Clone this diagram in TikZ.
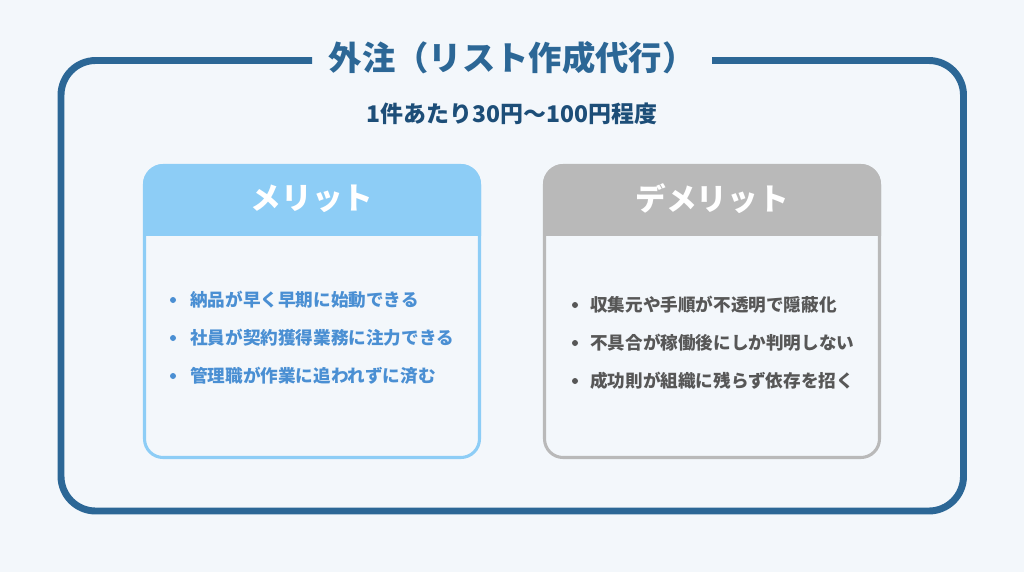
\documentclass[tikz,border=0pt]{standalone}
\usepackage{fontspec}
\setmainfont{Noto Sans CJK JP}
\usepackage{tikz}
\usetikzlibrary{positioning}
\usepackage{xcolor}
\definecolor{bgc}{HTML}{F3F7FB}
\definecolor{frm}{HTML}{2C6796}
\definecolor{sub}{HTML}{1D4E78}
\definecolor{mer}{HTML}{8DCDF6}
\definecolor{mertxt}{HTML}{4A8FD3}
\definecolor{dem}{HTML}{B9B9B9}
\definecolor{demtxt}{HTML}{575757}
\tikzset{
  fs/.style={font=\bfseries\fontsize{#1}{#1}\selectfont},
  item/.style={anchor=west, inner sep=0pt, fs=13.2},
  dot/.style={circle, inner sep=0pt, minimum size=4.5pt}
}

\begin{document}
\begin{tikzpicture}[x=0.75pt, y=-0.75pt]
\fill[bgc] (0,0) rectangle (1024,572);
% outer frame, open at the top for the title
\draw[frm, line width=5.2pt, rounded corners=26] (312,60.5) -| (61,511)
  -| (963.5,60.5) -- (712,60.5);
\node[fs=25, text=frm] (title) at (512,58) {外注（リスト作成代行）};
\node[fs=17.2, text=sub] (price) at (512,114) {1件あたり30円〜100円程度};

% merit card
\draw[mer, line width=2.3pt, fill=bgc, rounded corners=14] (144.5,165.5)
  rectangle (479.5,457.5);
\begin{scope}
  \clip (0,0) rectangle (1024,235);
  \fill[mer, rounded corners=15.5] (143,164) rectangle (481,459);
\end{scope}
\node[fs=23, text=white] (merit) at (312,199) {メリット};
\foreach \t [count=\i] in {納品が早く早期に始動できる, 社員が契約獲得業務に注力できる,
    管理職が作業に追われずに済む} {
  \node[dot, fill=mertxt] (md\i) at (173,262+38*\i) {};
  \node[item, text=mertxt] (m\i) at (190,262+38*\i) {\t};
}

% demerit card
\draw[dem, line width=2.3pt, fill=bgc, rounded corners=14] (544.5,165.5)
  rectangle (879.5,457.5);
\begin{scope}
  \clip (0,0) rectangle (1024,235);
  \fill[dem, rounded corners=15.5] (543,164) rectangle (881,459);
\end{scope}
\node[fs=23, text=white] (demerit) at (712,199) {デメリット};
\foreach \t [count=\i] in {収集元や手順が不透明で隠蔽化, 不具合が稼働後にしか判明しない,
    成功則が組織に残らず依存を招く} {
  \node[dot, fill=demtxt] (dd\i) at (575,267+38*\i) {};
  \node[item, text=demtxt] (d\i) at (590,267+38*\i) {\t};
}
\end{tikzpicture}
\end{document}
